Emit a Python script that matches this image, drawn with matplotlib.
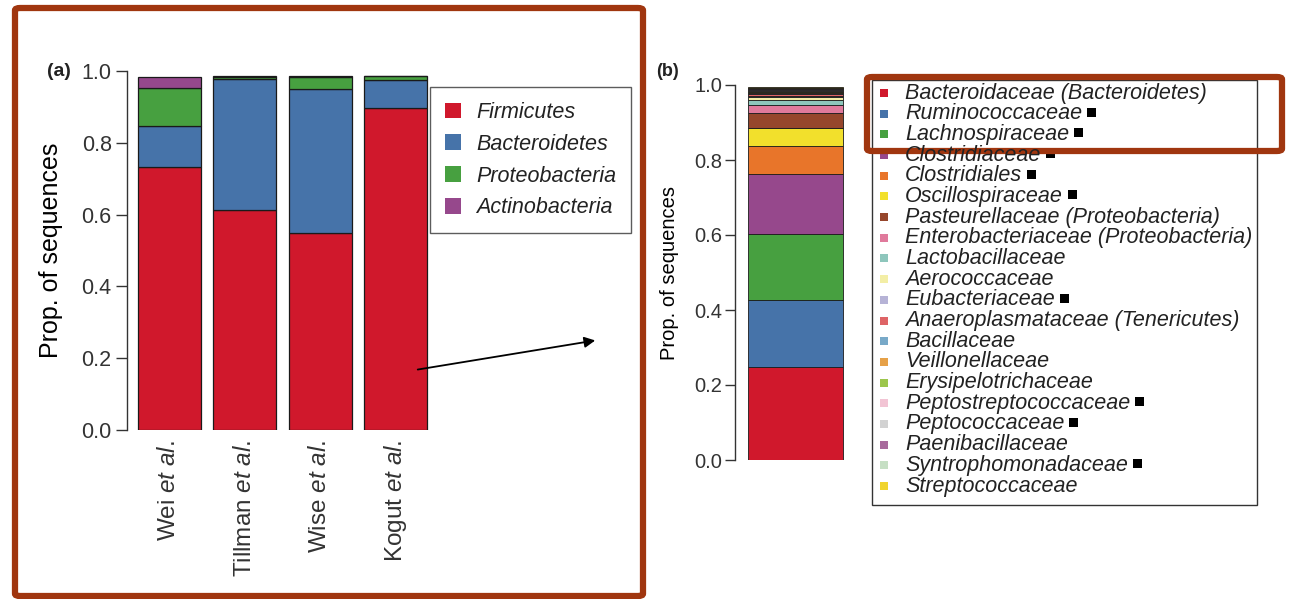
import numpy as np
import matplotlib
matplotlib.use("Agg")
import matplotlib.pyplot as plt
from matplotlib.patches import Patch, Rectangle, FancyBboxPatch, FancyArrowPatch

plt.rcParams['font.family'] = ['Liberation Sans', 'DejaVu Sans']
plt.rcParams['mathtext.fontset'] = 'custom'
plt.rcParams['mathtext.rm'] = 'Liberation Sans'
plt.rcParams['mathtext.it'] = 'Liberation Sans:italic'
plt.rcParams['text.color'] = '#222222'
plt.rcParams['axes.edgecolor'] = '#333333'
plt.rcParams['xtick.color'] = '#333333'
plt.rcParams['ytick.color'] = '#333333'
plt.rcParams['xtick.labelcolor'] = '#333333'
plt.rcParams['ytick.labelcolor'] = '#333333'

# ---------------------------------------------------------------- data (a)
studies = ['Wei', 'Tillman', 'Wise', 'Kogut']
phyla = ['Firmicutes', 'Bacteroidetes', 'Proteobacteria', 'Actinobacteria']
firmicutes = [0.732, 0.613, 0.549, 0.898]
bacteroidetes = [0.115, 0.364, 0.400, 0.077]
proteobacteria = [0.106, 0.006, 0.035, 0.010]
actinobacteria = [0.029, 0.003, 0.002, 0.001]
phylum_colors = ['#d0182c', '#4673a9', '#47a040', '#96488c']

# ---------------------------------------------------------------- data (b)
families = ['Bacteroidaceae (Bacteroidetes)', 'Ruminococcaceae', 'Lachnospiraceae',
            'Clostridiaceae', 'Clostridiales', 'Oscillospiraceae',
            'Pasteurellaceae (Proteobacteria)', 'Enterobacteriaceae (Proteobacteria)',
            'Lactobacillaceae', 'Aerococcaceae', 'Eubacteriaceae',
            'Anaeroplasmataceae (Tenericutes)', 'Bacillaceae', 'Veillonellaceae',
            'Erysipelotrichaceae', 'Peptostreptococcaceae', 'Peptococcaceae',
            'Paenibacillaceae', 'Syntrophomonadaceae', 'Streptococcaceae']
family_props = [0.249, 0.178, 0.176, 0.159, 0.075, 0.049, 0.040, 0.020, 0.013, 0.008,
                0.005, 0.004, 0.003, 0.003, 0.003, 0.002, 0.002, 0.002, 0.002, 0.002]
family_marked = [False, True, True, True, True, True, False, False, False, False,
                 True, False, False, False, False, True, True, False, True, False]
family_colors = ['#d0182c', '#4673a9', '#47a040', '#96488c', '#e8752a', '#f2e02c',
                 '#96462c', '#e07a9c', '#8ec6bc', '#f3eea6', '#b6b3d6', '#de6466',
                 '#78a9c8', '#e6a148', '#9cc64c', '#f2c4d4', '#d2d2d2', '#a86a9c',
                 '#c6dfc4', '#f0d42e']

W, H = 1296, 599
fig = plt.figure(figsize=(W / 100, H / 100), dpi=100)


def fx(x):
    return x / W


def fy(y):
    return 1 - y / H


def axes_px(left, top, right, bottom):
    return fig.add_axes([fx(left), fy(bottom), fx(right) - fx(left), fy(top) - fy(bottom)])


def r_style(ax):
    for s in ['top', 'right', 'bottom']:
        ax.spines[s].set_visible(False)
    ax.spines['left'].set_bounds(0, 1)
    ax.spines['left'].set_linewidth(1.0)
    ax.set_ylim(0, 1)
    ax.set_yticks([0, 0.2, 0.4, 0.6, 0.8, 1.0])
    ax.set_yticklabels(['0.0', '0.2', '0.4', '0.6', '0.8', '1.0'])


# ---------------------------------------------------------------- panel (a)
axa = axes_px(127, 71, 432, 430)
x = np.arange(len(studies))
bottom = np.zeros(len(studies))
for vals, col in zip([firmicutes, bacteroidetes, proteobacteria, actinobacteria], phylum_colors):
    axa.bar(x, vals, width=0.84, bottom=bottom, color=col, edgecolor='#1a1a1a', linewidth=0.9)
    bottom += np.array(vals)
axa.set_xlim(-0.564, 3.485)
r_style(axa)
axa.tick_params(axis='y', labelsize=15.5, length=8, width=1.0, pad=3)
axa.set_xticks(x)
axa.set_xticklabels([r'%s $\mathit{et\ al.}$' % s for s in studies], rotation=90, fontsize=17.5)
axa.tick_params(axis='x', length=0, pad=7)
axa.set_ylabel('Prop. of sequences', fontsize=18, labelpad=13)

leg = fig.legend([Patch(facecolor=c, edgecolor='none') for c in phylum_colors], phyla,
                 loc='upper left', bbox_to_anchor=(fx(430), fy(87)), borderaxespad=0,
                 fancybox=False, edgecolor='#333333', handlelength=0.75,
                 handleheight=0.75, handletextpad=0.7, labelspacing=0.5,
                 borderpad=0.7, prop={'style': 'italic', 'size': 15.5})
leg.get_frame().set_linewidth(1.0)

fig.text(fx(47), fy(72), '(a)', fontsize=14, fontweight='bold', va='center')

# ---------------------------------------------------------------- panel (b)
axb = axes_px(735, 85, 850, 460)
bot = 0.0
for val, col in zip(family_props, family_colors):
    axb.bar(0, val, width=1.0, bottom=bot, color=col, edgecolor='#1a1a1a', linewidth=0.6)
    bot += val
axb.set_xlim(-0.637, 0.574)
r_style(axb)
axb.set_xticks([])
axb.tick_params(axis='y', labelsize=14.5, length=7, width=1.0, pad=2)
axb.set_ylabel('Prop. of sequences', fontsize=14.5, labelpad=11)
fig.text(fx(656), fy(72), '(b)', fontsize=13, fontweight='bold', va='center')

# legend (b), drawn row by row to get the tight R spacing
fig.patches.append(Rectangle((fx(872), fy(505)), fx(1257) - fx(872), fy(80) - fy(505),
                             transform=fig.transFigure, facecolor='none',
                             edgecolor='#333333', linewidth=1.0))
renderer = fig.canvas.get_renderer()
row0, step = 93, (486 - 93) / (len(families) - 1)
for i, (name, col, mk) in enumerate(zip(families, family_colors, family_marked)):
    yy = row0 + i * step
    fig.patches.append(Rectangle((fx(880), fy(yy + 4)), fx(8), fy(0) - fy(8),
                                 transform=fig.transFigure, facecolor=col, edgecolor='none'))
    t = fig.text(fx(905), fy(yy), name, fontsize=15.5, style='italic', va='center', ha='left')
    if mk:
        ext = t.get_window_extent(renderer)
        fig.patches.append(Rectangle((fx(ext.x1 + 5), fy(yy + 3)), fx(9), fy(0) - fy(9),
                                     transform=fig.transFigure, facecolor='black',
                                     edgecolor='none'))

# arrow from (a) to (b)
fig.patches.append(FancyArrowPatch(
    (fx(415), fy(370)), (fx(598), fy(340)), transform=fig.transFigure,
    arrowstyle='-|>', mutation_scale=16, color='black', linewidth=1.3))

# highlight frames
frame_col = '#a0360f'
fig.patches.append(FancyBboxPatch((fx(15), fy(596)), fx(643) - fx(15), fy(8) - fy(596),
                                  boxstyle='round,pad=0,rounding_size=0.004',
                                  transform=fig.transFigure, facecolor='none',
                                  edgecolor=frame_col, linewidth=4.5))
fig.patches.append(FancyBboxPatch((fx(867), fy(151)), fx(1282) - fx(867), fy(77) - fy(151),
                                  boxstyle='round,pad=0,rounding_size=0.004',
                                  transform=fig.transFigure, facecolor='none',
                                  edgecolor=frame_col, linewidth=4.5))

fig.savefig('out.png', dpi=100)
